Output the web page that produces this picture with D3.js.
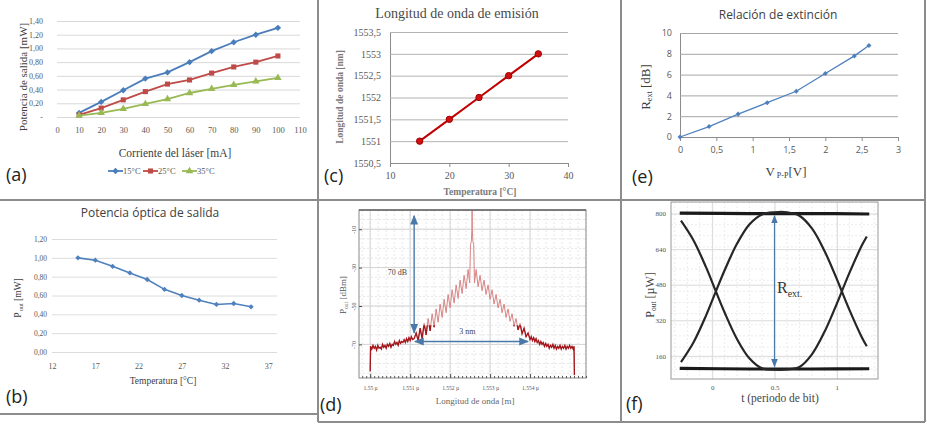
<!DOCTYPE html>
<html lang="es">
<head>
<meta charset="utf-8">
<title>Caracterización del láser</title>
<script src="https://cdn.jsdelivr.net/npm/d3@7/dist/d3.min.js"></script>
<style>
  html, body { margin: 0; padding: 0; background: #fff; }
  svg { display: block; }
</style>
</head>
<body>
<svg id="figure" width="927" height="424"></svg>
<script>
/* global d3 */

// ---- (a) output power vs laser current ----
const currentMA = [10, 20, 30, 40, 50, 60, 70, 80, 90, 100];
const power15C = [0.06, 0.22, 0.39, 0.56, 0.65, 0.80, 0.96, 1.09, 1.20, 1.30];
const power25C = [0.03, 0.13, 0.25, 0.37, 0.48, 0.54, 0.64, 0.73, 0.80, 0.89];
const power35C = [0.02, 0.06, 0.12, 0.19, 0.26, 0.35, 0.41, 0.47, 0.52, 0.57];
const legendA = ['15°C', '25°C', '35°C'];
const xTicksA = [0, 10, 20, 30, 40, 50, 60, 70, 80, 90, 100, 110];
const yTicksA = [0, 0.2, 0.4, 0.6, 0.8, 1.0, 1.2, 1.4];

// ---- (b) output power vs temperature ----
const tempB = [15, 17, 19, 21, 23, 25, 27, 29, 31, 33, 35];
const poutB = [1.00, 0.975, 0.91, 0.84, 0.77, 0.665, 0.60, 0.55, 0.505, 0.515, 0.48];
const xTicksB = [12, 17, 22, 27, 32, 37];
const yTicksB = [0, 0.2, 0.4, 0.6, 0.8, 1.0, 1.2];

// ---- (c) emission wavelength vs temperature ----
const tempC = [15, 20, 25, 30, 35];
const lambdaC = [1551, 1551.5, 1552, 1552.5, 1553];
const xTicksC = [10, 20, 30, 40];
const yTicksC = [1550.5, 1551, 1551.5, 1552, 1552.5, 1553, 1553.5];

// ---- (d) optical spectrum [nm, dBm] ----
const spectrum = [
  [1550.00, -84], [1550.01, -71], [1550.04, -72.5], [1550.07, -70.5], [1550.10, -72], [1550.13, -71],
  [1550.16, -73], [1550.19, -70.5], [1550.22, -72], [1550.25, -71.5], [1550.28, -72.5], [1550.31, -70],
  [1550.34, -71.5], [1550.37, -70.5], [1550.40, -72], [1550.43, -70], [1550.46, -71], [1550.49, -69.5],
  [1550.52, -71.5], [1550.55, -70], [1550.58, -70.5], [1550.61, -68.5], [1550.64, -70], [1550.67, -69],
  [1550.70, -70.5], [1550.73, -68], [1550.76, -69.5], [1550.79, -68.5], [1550.82, -69], [1550.85, -67.5],
  [1550.88, -69], [1550.91, -67], [1550.94, -68.5], [1550.97, -66.5], [1551.00, -68], [1551.03, -66],
  [1551.06, -67.5], [1551.10, -67],
  [1551.15, -64], [1551.20, -68], [1551.25, -61.5], [1551.30, -67], [1551.35, -59], [1551.40, -65],
  [1551.45, -56.5], [1551.50, -63], [1551.55, -54], [1551.60, -61], [1551.65, -51.5], [1551.70, -58.5],
  [1551.75, -49], [1551.80, -56], [1551.85, -46.5], [1551.90, -53.5], [1551.95, -44], [1552.00, -51],
  [1552.05, -41.5], [1552.10, -48.5], [1552.15, -39], [1552.20, -46], [1552.25, -36.5], [1552.30, -43.5],
  [1552.35, -34], [1552.40, -41], [1552.45, -31], [1552.49, -38],
  [1552.51, -18], [1552.53, -16.5], [1552.545, -10], [1552.55, 3], [1552.555, -10], [1552.57, -16.5],
  [1552.59, -18], [1552.61, -38],
  [1552.65, -31], [1552.70, -40], [1552.75, -34], [1552.80, -42], [1552.85, -36.5], [1552.90, -44],
  [1552.95, -39], [1553.00, -46.5], [1553.05, -41.5], [1553.10, -49], [1553.15, -44], [1553.20, -51],
  [1553.25, -46.5], [1553.30, -53.5], [1553.35, -49], [1553.40, -56], [1553.45, -51.5], [1553.50, -58],
  [1553.55, -54], [1553.60, -60.5], [1553.65, -56.5], [1553.70, -62.5], [1553.75, -59], [1553.80, -64.5],
  [1553.85, -61.5], [1553.90, -66], [1553.95, -64], [1554.00, -67.5],
  [1554.03, -66], [1554.06, -68], [1554.09, -66.5], [1554.12, -68.5], [1554.15, -67], [1554.18, -69],
  [1554.21, -68], [1554.24, -70], [1554.27, -68.5], [1554.30, -70], [1554.33, -69], [1554.36, -71],
  [1554.39, -69.5], [1554.42, -71], [1554.45, -70], [1554.48, -72], [1554.51, -70.5], [1554.54, -71.5],
  [1554.57, -70], [1554.60, -72], [1554.63, -70.5], [1554.66, -72.5], [1554.69, -71], [1554.72, -72],
  [1554.75, -70.5], [1554.78, -72.5], [1554.81, -71], [1554.84, -72], [1554.87, -70.5], [1554.90, -72.5],
  [1554.93, -71], [1554.96, -72], [1554.99, -70.5], [1555.02, -72], [1555.05, -71], [1555.08, -72.5],
  [1555.10, -71], [1555.11, -86]
];
const xTicksD = [1550, 1551, 1552, 1553, 1554];
const xLabelsD = ['1.55 µ', '1.551 µ', '1.552 µ', '1.553 µ', '1.554 µ'];
const yTicksD = [-10, -30, -50, -70];
const span70dB = { wl: 1551.1, top: -3, bottom: -64 };
const span3nm = { dB: -68.5, from: 1551.12, to: 1553.95 };

// ---- (e) extinction ratio vs Vpp ----
const vppE = [0, 0.4, 0.8, 1.2, 1.6, 2, 2.4, 2.6];
const rextE = [0, 1.0, 2.2, 3.3, 4.4, 6.1, 7.8, 8.8];
const xTicksE = [0, 0.5, 1, 1.5, 2, 2.5, 3];
const yTicksE = [0, 2, 4, 6, 8, 10];

// ---- (f) eye diagram [bit period, µW] ----
const eyeT = [-0.25, -0.15, -0.05, 0.03, 0.1, 0.2, 0.3, 0.4, 0.5, 0.6, 0.7, 0.8, 0.9, 1.0, 1.04, 1.1, 1.2, 1.24];
const eyeFallRise = [768, 680, 560, 450, 355, 235, 148, 104, 98, 99, 110, 167, 267, 395, 450, 532, 656, 697];
const eyeRiseFall = [132, 220, 340, 450, 545, 665, 752, 796, 806, 806, 790, 733, 633, 505, 450, 368, 244, 203];
const railT = [-0.26, 0.3, 0.8, 1.26];
const railHigh = [802, 800, 800, 798];
const railLow = [104, 101, 101, 102];
const xTicksF = [0, 0.5, 1];
const yTicksF = [160, 320, 480, 640, 800];
const rextSpan = { t: 0.5, top: 790, bottom: 112 };

// ---------------------------------------------------------------
const SERIF = '"Liberation Serif", "DejaVu Serif", serif';
const SANS = '"Open Sans", "Liberation Sans", sans-serif';
const svg = d3.select('#figure');
const defs = svg.append('defs');

defs.append('marker')
  .attr('id', 'arrowBlue')
  .attr('viewBox', '0 0 10 10')
  .attr('refX', 9).attr('refY', 5)
  .attr('markerWidth', 7).attr('markerHeight', 7)
  .attr('orient', 'auto-start-reverse')
  .append('path')
  .attr('d', 'M0,1 L10,5 L0,9 Z')
  .attr('fill', '#4a78a8');

/** decimal comma formatter */
function comma(digits) {
  const f = digits == null ? d3.format('~') : d3.format(`.${digits}f`);
  return (d) => f(d).replace('.', ',');
}

/** style a d3 axis group */
function styleAxis(sel, o) {
  sel.selectAll('.tick line').attr('stroke', o.tickColor || '#bbb');
  sel.selectAll('.tick text')
    .attr('font-family', o.font)
    .attr('font-size', o.size)
    .attr('fill', o.fill || '#595959');
  if (o.domain) {
    sel.select('.domain').attr('stroke', o.domain);
  } else {
    sel.select('.domain').remove();
  }
}

/** text made of parts, [string, subscriptShift] */
function richText(g, x, y, parts, o = {}) {
  const size = o.size || 10;
  const t = g.append('text')
    .attr('transform', `translate(${x},${y})` + (o.rotate ? ' rotate(-90)' : ''))
    .attr('text-anchor', o.anchor || 'middle')
    .attr('font-family', o.font || SERIF)
    .attr('font-size', size)
    .attr('font-weight', o.weight || 'normal')
    .attr('fill', o.fill || '#404040');
  let shift = 0;
  parts.forEach(([s, sub]) => {
    const d = sub || 0;
    t.append('tspan')
      .attr('dy', d - shift)
      .attr('font-size', sub ? size * 0.62 : size)
      .text(s);
    shift = d;
  });
  return t;
}

function panelLabel(txt, x, y) {
  svg.append('text')
    .attr('x', x).attr('y', y)
    .attr('font-family', SANS)
    .attr('font-size', 18)
    .attr('fill', '#222')
    .text(txt);
}

// ---------------------------------------------------------------
function drawPanelA() {
  const g = svg.append('g');
  const x = d3.scaleLinear().domain([0, 110]).range([57, 300]);
  const y = d3.scaleLinear().domain([0, 1.4]).range([117, 21]);

  g.append('g').attr('transform', `translate(${x(0)},0)`)
    .call(d3.axisLeft(y).tickValues(yTicksA).tickSize(-(x(110) - x(0))).tickPadding(14)
      .tickFormat((d) => (d === 0 ? '-' : comma(2)(d))))
    .call(styleAxis, { font: SERIF, size: 8, tickColor: '#d9d9d9' });

  g.append('g').attr('transform', `translate(0,${y(0)})`)
    .call(d3.axisBottom(x).tickValues(xTicksA).tickSize(0).tickPadding(10))
    .call(styleAxis, { font: SERIF, size: 8.5 });

  const series = [
    { values: power15C, color: '#4a7ebb', symbol: d3.symbolDiamond2, size: 26 },
    { values: power25C, color: '#be4b48', symbol: d3.symbolSquare, size: 26 },
    { values: power35C, color: '#98b954', symbol: d3.symbolTriangle, size: 24 }
  ];
  const line = d3.line().x((d) => x(d[0])).y((d) => y(d[1]));

  series.forEach((s) => {
    const pts = currentMA.map((c, i) => [c, s.values[i]]);
    g.append('path').datum(pts)
      .attr('d', line)
      .attr('fill', 'none')
      .attr('stroke', s.color)
      .attr('stroke-width', 1.8);
    g.selectAll(null).data(pts).join('path')
      .attr('transform', (d) => `translate(${x(d[0])},${y(d[1])})`)
      .attr('d', d3.symbol().type(s.symbol).size(s.size))
      .attr('fill', s.color);
  });

  // legend below the axis title
  const legendX = [108, 143, 182];
  series.forEach((s, i) => {
    const lx = legendX[i];
    g.append('line')
      .attr('x1', lx).attr('x2', lx + 15).attr('y1', 171).attr('y2', 171)
      .attr('stroke', s.color).attr('stroke-width', 1.8);
    g.append('path')
      .attr('transform', `translate(${lx + 7.5},171)`)
      .attr('d', d3.symbol().type(s.symbol).size(s.size))
      .attr('fill', s.color);
    g.append('text')
      .attr('x', lx + 15).attr('y', 174)
      .attr('font-family', SERIF).attr('font-size', 8.5).attr('fill', '#595959')
      .text(legendA[i]);
  });

  richText(g, 175, 157, [['Corriente del láser [mA]']], { size: 11.5 });
  richText(g, 27, 77, [['Potencia de salida [mW]']], { size: 11, rotate: true });
  panelLabel('(a)', 6, 181);
}

function drawPanelB() {
  const g = svg.append('g');
  const x = d3.scaleLinear().domain([12, 38]).range([52, 277]);
  const y = d3.scaleLinear().domain([0, 1.2]).range([352, 239]);

  g.append('g').attr('transform', `translate(${x(12)},0)`)
    .call(d3.axisLeft(y).tickValues(yTicksB).tickSize(-(x(38) - x(12))).tickPadding(5)
      .tickFormat(comma(2)))
    .call(styleAxis, { font: SERIF, size: 7.5, tickColor: '#dcdcdc' });

  g.append('g').attr('transform', `translate(0,${y(0)})`)
    .call(d3.axisBottom(x).tickValues(xTicksB).tickSize(0).tickPadding(11))
    .call(styleAxis, { font: SERIF, size: 8 });

  const pts = tempB.map((t, i) => [t, poutB[i]]);
  g.append('path').datum(pts)
    .attr('d', d3.line().x((d) => x(d[0])).y((d) => y(d[1])))
    .attr('fill', 'none')
    .attr('stroke', '#4f81bd')
    .attr('stroke-width', 1.6);
  g.selectAll(null).data(pts).join('path')
    .attr('transform', (d) => `translate(${x(d[0])},${y(d[1])})`)
    .attr('d', d3.symbol().type(d3.symbolDiamond2).size(18))
    .attr('fill', '#4f81bd');

  richText(g, 150, 217, [['Potencia óptica de salida']], { font: SANS, size: 12 });
  richText(g, 163, 384, [['Temperatura  [°C]']], { size: 9.5 });
  richText(g, 21, 298, [['P'], [' out', 1.5], ['  [mW]']], { size: 9.5, rotate: true });
  panelLabel('(b)', 6, 403);
}

function drawPanelC() {
  const g = svg.append('g');
  const x = d3.scaleLinear().domain([10, 40]).range([390, 568]);
  const y = d3.scaleLinear().domain([1550.5, 1553.5]).range([163, 32]);

  g.append('g').attr('transform', `translate(${x(10)},0)`)
    .call(d3.axisLeft(y).tickValues(yTicksC).tickSize(-(x(40) - x(10))).tickSizeOuter(0)
      .tickPadding(9).tickFormat(comma()))
    .call(styleAxis, { font: SERIF, size: 10, tickColor: '#b3b3b3', domain: '#8c8c8c' });

  g.append('g').attr('transform', `translate(0,${y(1550.5)})`)
    .call(d3.axisBottom(x).tickValues(xTicksC).tickSize(4).tickSizeOuter(0).tickPadding(5))
    .call(styleAxis, { font: SERIF, size: 10, tickColor: '#8c8c8c', domain: '#8c8c8c' });

  const pts = tempC.map((t, i) => [t, lambdaC[i]]);
  g.append('path').datum(pts)
    .attr('d', d3.line().x((d) => x(d[0])).y((d) => y(d[1])))
    .attr('fill', 'none')
    .attr('stroke', '#c00000')
    .attr('stroke-width', 2);
  g.selectAll(null).data(pts).join('circle')
    .attr('cx', (d) => x(d[0]))
    .attr('cy', (d) => y(d[1]))
    .attr('r', 3.2)
    .attr('fill', '#d01010')
    .attr('stroke', '#a00000');

  richText(g, 457, 18, [['Longitud de onda de emisión']], { size: 14, fill: '#4a4a4a' });
  richText(g, 480, 195, [['Temperatura [°C]']], { size: 9.5, weight: 'bold', fill: '#7a7a7a' });
  richText(g, 343, 97, [['Longitud de onda [nm]']], { size: 9.5, weight: 'bold', fill: '#7a7a7a', rotate: true });
  panelLabel('(c)', 324, 182);
}

function drawPanelD() {
  const g = svg.append('g');
  const x = d3.scaleLinear().domain([1549.72, 1555.4]).range([359, 586]);
  const y = d3.scaleLinear().domain([-87.5, 0]).range([378, 210]);

  // minor and major grid
  g.append('g').selectAll('line').data(x.ticks(28)).join('line')
    .attr('x1', (d) => x(d)).attr('x2', (d) => x(d))
    .attr('y1', y(0)).attr('y2', y(-87.5))
    .attr('stroke', '#e6e6e6').attr('stroke-dasharray', '2,2');
  g.append('g').selectAll('line').data(y.ticks(17)).join('line')
    .attr('x1', x(1549.72)).attr('x2', x(1555.4))
    .attr('y1', (d) => y(d)).attr('y2', (d) => y(d))
    .attr('stroke', '#e6e6e6').attr('stroke-dasharray', '2,2');
  g.append('g').selectAll('line').data(xTicksD).join('line')
    .attr('x1', (d) => x(d)).attr('x2', (d) => x(d))
    .attr('y1', y(0)).attr('y2', y(-87.5))
    .attr('stroke', '#d4d4d4');
  g.append('g').selectAll('line').data(yTicksD).join('line')
    .attr('x1', x(1549.72)).attr('x2', x(1555.4))
    .attr('y1', (d) => y(d)).attr('y2', (d) => y(d))
    .attr('stroke', '#d4d4d4');

  defs.append('clipPath').attr('id', 'clipD')
    .append('rect')
    .attr('x', x(1549.72)).attr('y', y(0))
    .attr('width', x(1555.4) - x(1549.72)).attr('height', y(-87.5) - y(0));
  defs.append('clipPath').attr('id', 'clipDLow')
    .append('rect')
    .attr('x', x(1549.72)).attr('y', y(-60))
    .attr('width', x(1555.4) - x(1549.72)).attr('height', y(-87.5) - y(-60));

  const line = d3.line().x((d) => x(d[0])).y((d) => y(d[1]));
  g.append('path').datum(spectrum)
    .attr('clip-path', 'url(#clipD)')
    .attr('d', line)
    .attr('fill', 'none')
    .attr('stroke', '#d98585')
    .attr('stroke-width', 1);
  g.append('path').datum(spectrum)
    .attr('clip-path', 'url(#clipDLow)')
    .attr('d', line)
    .attr('fill', 'none')
    .attr('stroke', '#a3161c')
    .attr('stroke-width', 1.3);

  // frame with inward ticks
  g.append('rect')
    .attr('x', x(1549.72)).attr('y', y(0))
    .attr('width', x(1555.4) - x(1549.72)).attr('height', y(-87.5) - y(0))
    .attr('fill', 'none').attr('stroke', '#8a8a8a');
  g.append('line')
    .attr('x1', x(1549.72)).attr('x2', x(1555.4)).attr('y1', y(0)).attr('y2', y(0))
    .attr('stroke', '#666').attr('stroke-width', 1.4);

  g.append('g').attr('transform', `translate(0,${y(-87.5)})`)
    .call(d3.axisBottom(x).ticks(56).tickSize(-2).tickFormat(''))
    .call(styleAxis, { font: SERIF, size: 6, tickColor: '#555' });
  g.append('g').attr('transform', `translate(0,${y(-87.5)})`)
    .call(d3.axisBottom(x).tickValues(xTicksD).tickSize(-4).tickPadding(8)
      .tickFormat((d, i) => xLabelsD[i]))
    .call(styleAxis, { font: SERIF, size: 5.5, tickColor: '#555', fill: '#555' });

  g.append('g').attr('transform', `translate(${x(1549.72)},0)`)
    .call(d3.axisLeft(y).tickValues(yTicksD).tickSize(-3).tickFormat((d) => d))
    .call(styleAxis, { font: SERIF, size: 6, tickColor: '#555', fill: '#555' })
    .call((a) => a.selectAll('.tick text')
      .attr('x', 0).attr('dy', 0)
      .attr('text-anchor', 'middle')
      .attr('transform', 'translate(-3,0) rotate(-90)'));

  // annotations
  g.append('line')
    .attr('x1', x(span70dB.wl)).attr('x2', x(span70dB.wl))
    .attr('y1', y(span70dB.top)).attr('y2', y(span70dB.bottom))
    .attr('stroke', '#4a78a8').attr('stroke-width', 1.4)
    .attr('marker-start', 'url(#arrowBlue)').attr('marker-end', 'url(#arrowBlue)');
  g.append('line')
    .attr('x1', x(span3nm.from)).attr('x2', x(span3nm.to))
    .attr('y1', y(span3nm.dB)).attr('y2', y(span3nm.dB))
    .attr('stroke', '#4a78a8').attr('stroke-width', 1.4)
    .attr('marker-start', 'url(#arrowBlue)').attr('marker-end', 'url(#arrowBlue)');
  richText(g, x(1550.68), y(-34), [['70 dB']], { size: 8, fill: '#444' });
  richText(g, x(1552.43), y(-64.5), [['3 nm']], { size: 8, fill: '#444' });

  richText(g, 475, 404, [['Longitud de onda [m]']], { size: 9, fill: '#666' });
  richText(g, 346, 295, [['P'], ['out', 1.5], [' [dBm]']], { size: 9, fill: '#555', rotate: true });
  panelLabel('(d)', 320, 411);
}

function drawPanelE() {
  const g = svg.append('g');
  const x = d3.scaleLinear().domain([0, 3]).range([680, 898]);
  const y = d3.scaleLinear().domain([0, 10]).range([137, 33]);

  g.append('g').attr('transform', `translate(${x(0)},0)`)
    .call(d3.axisLeft(y).tickValues(yTicksE).tickSize(-(x(3) - x(0))).tickSizeOuter(0).tickPadding(8))
    .call(styleAxis, { font: SANS, size: 9, tickColor: '#a6a6a6', domain: '#8c8c8c' });

  g.append('g').attr('transform', `translate(0,${y(0)})`)
    .call(d3.axisBottom(x).tickValues(xTicksE).tickSize(4).tickSizeOuter(0).tickPadding(6)
      .tickFormat(comma()))
    .call(styleAxis, { font: SANS, size: 9, tickColor: '#8c8c8c', domain: '#8c8c8c' });

  const pts = vppE.map((v, i) => [v, rextE[i]]);
  g.append('path').datum(pts)
    .attr('d', d3.line().x((d) => x(d[0])).y((d) => y(d[1])))
    .attr('fill', 'none')
    .attr('stroke', '#4f81bd')
    .attr('stroke-width', 1.3);
  g.selectAll(null).data(pts).join('path')
    .attr('transform', (d) => `translate(${x(d[0])},${y(d[1])})`)
    .attr('d', d3.symbol().type(d3.symbolDiamond2).size(16))
    .attr('fill', '#4f81bd');

  richText(g, 778, 19, [['Relación de extinción']], { font: SANS, size: 12 });
  richText(g, 786, 176, [['V'], [' P-P', 2], ['[V]']], { size: 13 });
  richText(g, 650, 87, [['R'], ['ext', 2], ['  [dB]']], { size: 13, rotate: true });
  panelLabel('(e)', 632, 183);
}

function drawPanelF() {
  const g = svg.append('g');
  const x = d3.scaleLinear().domain([-0.33, 1.33]).range([671, 878]);
  const y = d3.scaleLinear().domain([56, 852]).range([379, 202]);

  g.append('g').selectAll('line').data(x.ticks(16)).join('line')
    .attr('x1', (d) => x(d)).attr('x2', (d) => x(d))
    .attr('y1', y(852)).attr('y2', y(56))
    .attr('stroke', '#ececec').attr('stroke-dasharray', '2,2');
  g.append('g').selectAll('line').data(y.ticks(20)).join('line')
    .attr('x1', x(-0.33)).attr('x2', x(1.33))
    .attr('y1', (d) => y(d)).attr('y2', (d) => y(d))
    .attr('stroke', '#ececec').attr('stroke-dasharray', '2,2');

  g.append('g').attr('transform', `translate(${x(-0.33)},0)`)
    .call(d3.axisLeft(y).tickValues(yTicksF).tickSize(-(x(1.33) - x(-0.33))).tickPadding(5))
    .call(styleAxis, { font: SERIF, size: 7, tickColor: '#dadada', fill: '#555' });
  g.append('g').attr('transform', `translate(0,${y(56)})`)
    .call(d3.axisBottom(x).tickValues(xTicksF).tickSize(-(y(56) - y(852))).tickPadding(6)
      .tickFormat(d3.format('~')))
    .call(styleAxis, { font: SERIF, size: 7, tickColor: '#dadada', fill: '#555' });

  g.append('rect')
    .attr('x', x(-0.33)).attr('y', y(852))
    .attr('width', x(1.33) - x(-0.33)).attr('height', y(56) - y(852))
    .attr('fill', 'none').attr('stroke', '#999');

  const curve = d3.line().x((d) => x(d[0])).y((d) => y(d[1])).curve(d3.curveCatmullRom);
  [railHigh, railLow].forEach((rail) => {
    g.append('path').datum(railT.map((t, i) => [t, rail[i]]))
      .attr('d', curve)
      .attr('fill', 'none')
      .attr('stroke', '#1a1a1a')
      .attr('stroke-width', 3.2);
  });
  [eyeFallRise, eyeRiseFall].forEach((vals) => {
    g.append('path').datum(eyeT.map((t, i) => [t, vals[i]]))
      .attr('d', curve)
      .attr('fill', 'none')
      .attr('stroke', '#262626')
      .attr('stroke-width', 2.2);
  });

  g.append('line')
    .attr('x1', x(rextSpan.t)).attr('x2', x(rextSpan.t))
    .attr('y1', y(rextSpan.top)).attr('y2', y(rextSpan.bottom))
    .attr('stroke', '#4a78a8').attr('stroke-width', 1.2)
    .attr('marker-start', 'url(#arrowBlue)').attr('marker-end', 'url(#arrowBlue)');
  richText(g, x(0.52), y(445), [['R'], ['ext.', 4]], { size: 16, anchor: 'start', fill: '#333' });

  richText(g, 780, 402, [['t  (periodo de bit)']], { size: 11.5, fill: '#444' });
  richText(g, 654, 295, [['P'], ['out', 2], [' [µW]']], { size: 12, fill: '#444', rotate: true });
  panelLabel('(f)', 626, 410);
}

function drawDividers() {
  const lines = [
    [318, 0, 318, 422], [621, 0, 621, 422], [925, 0, 925, 422],
    [0, 200, 925, 200], [0, 414, 318, 414], [318, 422, 925, 422]
  ];
  svg.append('g').selectAll('line').data(lines).join('line')
    .attr('x1', (d) => d[0]).attr('y1', (d) => d[1])
    .attr('x2', (d) => d[2]).attr('y2', (d) => d[3])
    .attr('stroke', '#8c8c8c')
    .attr('stroke-width', 2);
}

drawPanelA();
drawPanelB();
drawPanelC();
drawPanelD();
drawPanelE();
drawPanelF();
drawDividers();
</script>
</body>
</html>
